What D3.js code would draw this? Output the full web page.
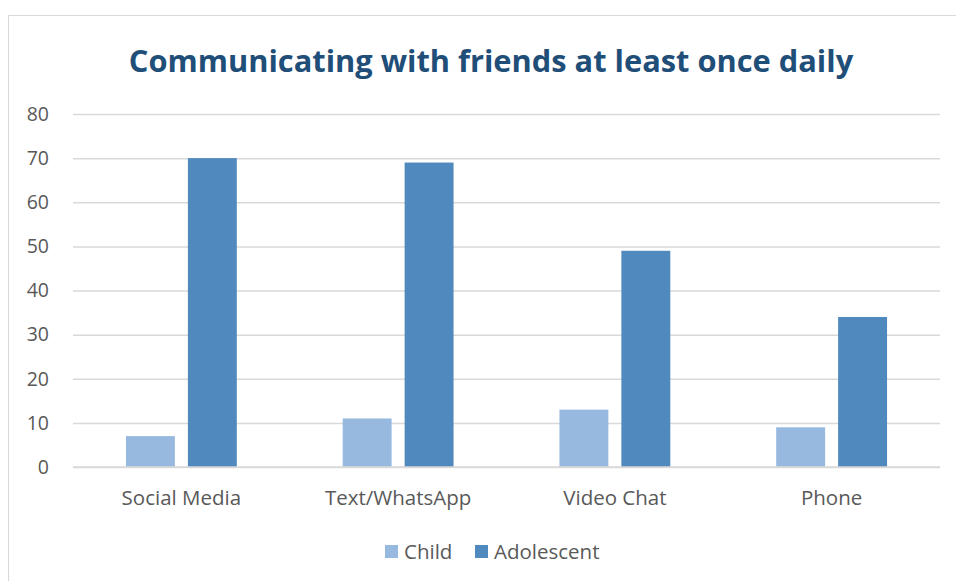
<!DOCTYPE html>
<html><head><meta charset="utf-8">
<script src="https://cdn.jsdelivr.net/npm/d3@7"></script>
<style>body{margin:0;background:#fff;font-family:Lato,"Open Sans",sans-serif;}</style>
</head><body><svg id="c" width="956" height="581"></svg>
<script>
const categories = ["Social Media","Text/WhatsApp","Video Chat","Phone"];
const seriesNames = ["Child","Adolescent"];
const childValues = [7,11,13,9];
const adolescentValues = [70,69,49,34];
const yTicks = [0,10,20,30,40,50,60,70,80];
const colors = ["#97B9E0","#4F89BD"];

const svg = d3.select("#c");
svg.append("rect").attr("x",8.5).attr("y",15.5).attr("width",960).attr("height",600)
  .attr("fill","#fff").attr("stroke","#D9D9D9");

const m = {left:73,right:940,top:114,bottom:467};
const x = d3.scaleBand().domain(categories).range([m.left,m.right]);
const x1 = d3.scaleBand().domain(seriesNames).range([0,x.bandwidth()]).paddingInner(0.21).paddingOuter(0.855);
const y = d3.scaleLinear().domain([0,80]).range([m.bottom,m.top]);

svg.append("text").attr("x",491).attr("y",72).attr("text-anchor","middle")
  .attr("font-family","'Open Sans',sans-serif").attr("font-weight",700).attr("font-size",30.8)
  .attr("fill","#1F4E79").text("Communicating with friends at least once daily");

const yAxis = d3.axisLeft(y).tickValues(yTicks).tickSize(-(m.right-m.left)).tickPadding(24);
const gy = svg.append("g").attr("transform",`translate(${m.left},0)`).call(yAxis);
gy.select(".domain").remove();
gy.selectAll(".tick line").attr("stroke","#D9D9D9").attr("stroke-width",1.5);
gy.selectAll(".tick text").attr("fill","#595959").attr("font-size",19.5).attr("font-family","'Open Sans',sans-serif");

const data = categories.map((c,i)=>({c, vals:[childValues[i],adolescentValues[i]]}));
const g = svg.append("g");
data.forEach(d=>{
  d.vals.forEach((v,j)=>{
    g.append("rect").attr("x",x(d.c)+x1(seriesNames[j])).attr("width",x1.bandwidth())
      .attr("y",y(v)).attr("height",y(0)-y(v)).attr("fill",colors[j]);
  });
});
svg.append("line").attr("x1",m.left).attr("x2",m.right).attr("y1",y(0)).attr("y2",y(0)).attr("stroke","#D9D9D9").attr("stroke-width",1.5);

const xAxis = d3.axisBottom(x).tickSize(0).tickPadding(23);
const gx = svg.append("g").attr("transform",`translate(0,${m.bottom})`).call(xAxis);
gx.select(".domain").remove();
gx.selectAll(".tick text").attr("fill","#595959").attr("font-size",20.5).attr("font-family","'Open Sans',sans-serif");

const leg = svg.append("g");
const legX = [385,475];
seriesNames.forEach((s,i)=>{
  leg.append("rect").attr("x",legX[i]).attr("y",545).attr("width",13).attr("height",13).attr("fill",colors[i]);
  leg.append("text").attr("x",legX[i]+19).attr("y",559).attr("fill","#595959").attr("font-size",20.5)
    .attr("font-family","'Open Sans',sans-serif").text(s);
});
</script></body></html>
